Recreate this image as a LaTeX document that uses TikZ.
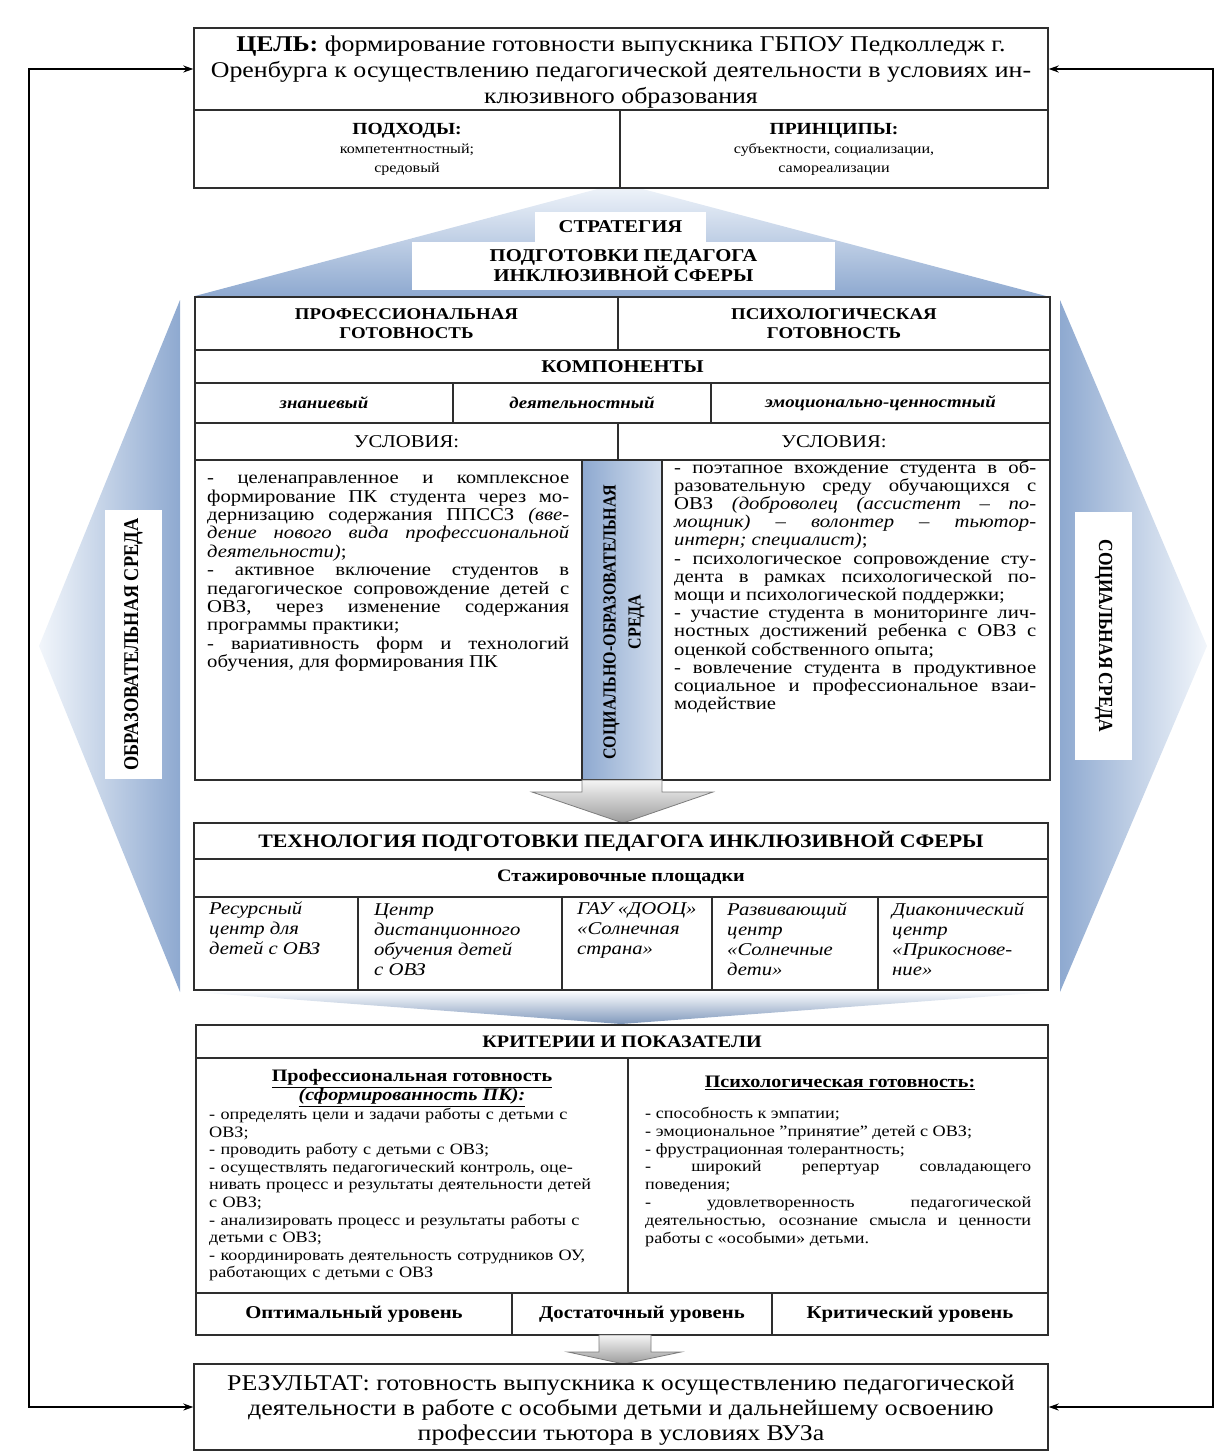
\documentclass[tikz,border=0pt]{standalone}
\usepackage{fontspec}
\setmainfont{Liberation Serif}[FakeStretch=1.15]
\newfontfamily\rotfont{Liberation Serif}[FakeStretch=0.87]
\usetikzlibrary{arrows.meta}
\definecolor{bord}{HTML}{2E2E2E}
\definecolor{blueD}{HTML}{8EA9D0}
\definecolor{blueL}{HTML}{F2F6FB}
\definecolor{greyD}{HTML}{9C9C9C}
\definecolor{greyL}{HTML}{F4F4F4}
\newcommand\fsz[2]{\fontsize{#1}{#2}\selectfont}
\newcommand\jst{\tolerance=10000 \hyphenpenalty=10000 \exhyphenpenalty=10000\relax}
\newcommand\mkcell[7][]{%
  \pgfmathsetmacro\cx{(#3+#5)/2}\pgfmathsetmacro\cy{(#4+#6)/2}%
  \pgfmathsetmacro\cw{#5-#3}\pgfmathsetmacro\ch{#6-#4}%
  \node[cell,minimum width=\cw pt,minimum height=\ch pt,#1] (#2) at (\cx,\cy) {#7};}
\begin{document}
\begin{tikzpicture}[x=1pt,y=-1pt,
  cell/.style={draw=bord,line width=1.4pt,fill=white,inner sep=0pt,align=center},
  txt/.style={inner sep=0pt},
  lab/.style={fill=white,inner sep=0pt,font=\rotfont\bfseries\fsz{21}{25}},
  garrow/.style={draw=greyD!80!black,line width=0.8pt,top color=greyL,bottom color=greyD},
  techtxt/.style={inner sep=0pt,anchor=north west,align=left,font=\itshape\fsz{18}{20}},
  fb/.style={line width=1.3pt,{Stealth[length=10pt,width=7pt]}-{Stealth[length=10pt,width=7pt]}}
]
\useasboundingbox (0,0) rectangle (1225,1452);

% background shapes
\path[left color=blueL,right color=blueD] (180,300) -- (180,992) -- (39,646) -- cycle;
\path[left color=blueD,right color=blueL] (1060,300) -- (1060,992) -- (1207,646) -- cycle;
\path[top color=blueL,bottom color=blueD] (620,183) -- (1046,296) -- (195,296) -- cycle;
\path[top color=blueL!50!white,bottom color=blueD!90!black] (194,992) -- (1048,992) -- (621,1024) -- cycle;

% side labels
\node[lab,rotate=90,minimum width=269pt,minimum height=57pt] (obr) at (133.5,644.5) {ОБРАЗОВАТЕЛЬНАЯ СРЕДА};
\node[lab,rotate=-90,minimum width=248pt,minimum height=57pt,font=\rotfont\bfseries\fsz{20}{25}] (soc) at (1103.5,636) {СОЦИАЛЬНАЯ СРЕДА};

% top
\mkcell{cel}{194}{28}{1048}{110}{}
\node[txt,align=center,font=\fsz{22.5}{26}] (celt) at (621,72) {\textbf{ЦЕЛЬ:} формирование готовности выпускника ГБПОУ Педколледж г.\\Оренбурга к осуществлению педагогической деятельности в условиях ин-\\клюзивного образования};
\mkcell[font=\fsz{14}{19}]{podh}{194}{110}{620}{188}{{\bfseries\fsz{17}{19}ПОДХОДЫ:}\\компетентностный;\\средовый}
\mkcell[font=\fsz{14}{19}]{princ}{620}{110}{1048}{188}{{\bfseries\fsz{17}{19}ПРИНЦИПЫ:}\\субъектности, социализации,\\самореализации}

% strategy
\node[fill=white,inner sep=0pt,minimum width=171pt,minimum height=30pt,font=\bfseries\fsz{18}{20}] (strat) at (620.5,227) {СТРАТЕГИЯ};
\node[fill=white,inner sep=0pt,minimum width=423pt,minimum height=48pt,align=center,font=\bfseries\fsz{18}{20}] (strat2) at (623.5,266) {ПОДГОТОВКИ ПЕДАГОГА\\ИНКЛЮЗИВНОЙ СФЕРЫ};

% readiness table
\mkcell[font=\bfseries\fsz{16.4}{19}]{prof}{195}{297}{618}{350}{ПРОФЕССИОНАЛЬНАЯ\\ГОТОВНОСТЬ}
\mkcell[font=\bfseries\fsz{16.4}{19}]{psy}{618}{297}{1050}{350}{ПСИХОЛОГИЧЕСКАЯ\\ГОТОВНОСТЬ}
\mkcell[font=\bfseries\fsz{18}{20}]{komp}{195}{350}{1050}{383}{КОМПОНЕНТЫ}
\mkcell[font=\bfseries\itshape\fsz{16.4}{18}]{zn}{195}{383}{453}{423}{знаниевый}
\mkcell[font=\bfseries\itshape\fsz{16.4}{18}]{dey}{453}{383}{711}{423}{деятельностный}
\mkcell[font=\bfseries\itshape\fsz{16.4}{18}]{emo}{711}{383}{1050}{423}{эмоционально-ценностный}
\mkcell[font=\fsz{18}{20}]{uslL}{195}{423}{618}{460}{УСЛОВИЯ:}
\mkcell[font=\fsz{18}{20}]{uslR}{618}{423}{1050}{460}{УСЛОВИЯ:}
\mkcell{condL}{195}{460}{582}{780}{}
\mkcell{condR}{662}{460}{1050}{780}{}
\mkcell[left color=blueD,right color=blueL!70!blueD]{col}{582}{460}{662}{780}{}
\node[rotate=90,inner sep=0pt,align=center,font=\rotfont\bfseries\fsz{18.4}{25}] (coltxt) at (624,622) {СОЦИАЛЬНО-ОБРАЗОВАТЕЛЬНАЯ\\СРЕДА};

\node[txt,anchor=north west,text width=362pt,align=justify,font=\fsz{18}{18.4}\jst] (condLt) at (207,475)
{- целенаправленное и комплексное\linebreak
формирование ПК студента через мо-\linebreak
дернизацию содержания ППССЗ \textit{(вве-}\linebreak
\textit{дение нового вида профессиональной}\linebreak
\textit{деятельности)};\newline
- активное включение студентов в\linebreak
педагогическое сопровождение детей с\linebreak
ОВЗ, через изменение содержания\linebreak
программы практики;\newline
- вариативность форм и технологий\linebreak
обучения, для формирования ПК};

\node[txt,anchor=north west,text width=362pt,align=justify,font=\fsz{18}{18.2}\jst] (condRt) at (674,460)
{- поэтапное вхождение студента в об-\linebreak
разовательную среду обучающихся с\linebreak
ОВЗ \textit{(доброволец (ассистент – по-}\linebreak
\textit{мощник) – волонтер – тьютор-}\linebreak
\textit{интерн; специалист)};\newline
- психологическое сопровождение сту-\linebreak
дента в рамках психологической по-\linebreak
мощи и психологической поддержки;\newline
- участие студента в мониторинге лич-\linebreak
ностных достижений ребенка с ОВЗ с\linebreak
оценкой собственного опыта;\newline
- вовлечение студента в продуктивное\linebreak
социальное и профессиональное взаи-\linebreak
модействие};

% arrow 1
\path[garrow] (582,780) -- (662,780) -- (662,792) -- (713,792) -- (623,823) -- (532,792) -- (582,792) -- cycle;

% technology
\mkcell[font=\bfseries\fsz{19}{20}]{tech}{194}{823}{1048}{859}{ТЕХНОЛОГИЯ ПОДГОТОВКИ ПЕДАГОГА ИНКЛЮЗИВНОЙ СФЕРЫ}
\mkcell[font=\bfseries\fsz{17.5}{20}]{stazh}{194}{859}{1048}{897}{Стажировочные площадки}
\mkcell{b1}{194}{897}{358}{990}{}
\mkcell{b2}{358}{897}{562}{990}{}
\mkcell{b3}{562}{897}{712}{990}{}
\mkcell{b4}{712}{897}{878}{990}{}
\mkcell{b5}{878}{897}{1048}{990}{}
\node[techtxt] (t1) at (209,901) {Ресурсный\\центр для\\детей с ОВЗ};
\node[techtxt] (t2) at (374,903) {Центр\\дистанционного\\обучения детей\\с ОВЗ};
\node[techtxt] (t3) at (577,902) {ГАУ «ДООЦ»\\«Солнечная\\страна»};
\node[techtxt] (t4) at (727,902) {Развивающий\\центр\\«Солнечные\\дети»};
\node[techtxt] (t5) at (892,902) {Диаконический\\центр\\«Прикоснове-\\ние»};

% criteria
\mkcell[font=\bfseries\fsz{17.5}{20}]{crit}{196}{1025}{1048}{1058}{КРИТЕРИИ И ПОКАЗАТЕЛИ}
\mkcell{critL}{196}{1058}{628}{1293}{}
\mkcell{critR}{628}{1058}{1048}{1293}{}
\mkcell[font=\bfseries\fsz{18}{20}]{lv1}{196}{1293}{512}{1335}{Оптимальный уровень}
\mkcell[font=\bfseries\fsz{18}{20}]{lv2}{512}{1293}{772}{1335}{Достаточный уровень}
\mkcell[font=\bfseries\fsz{18}{20}]{lv3}{772}{1293}{1048}{1335}{Критический уровень}

\node[txt,align=center,font=\bfseries\fsz{17.5}{19}] (critLh) at (412,1088)
{\underline{Профессиональная готовность}\\\underline{\itshape(сформированность ПК):}};
\node[txt,anchor=north west,text width=412pt,align=left,font=\fsz{15.8}{17.6}] (critLt) at (209,1108)
{- определять цели и задачи работы с детьми с\\
ОВЗ;\\
- проводить работу с детьми с ОВЗ;\\
- осуществлять педагогический контроль, оце-\\
нивать процесс и результаты деятельности детей\\
с ОВЗ;\\
- анализировать процесс и результаты работы с\\
детьми с ОВЗ;\\
- координировать деятельность сотрудников ОУ,\\
работающих с детьми с ОВЗ};

\node[txt,font=\bfseries\fsz{17.5}{19}] (critRh) at (840,1083) {\underline{Психологическая готовность:}};
\node[txt,anchor=north west,text width=386pt,align=justify,font=\fsz{15.8}{17.8}\jst] (critRt) at (645,1107)
{- способность к эмпатии;\newline
- эмоциональное "принятие" детей с ОВЗ;\newline
- фрустрационная толерантность;\newline
- широкий репертуар совладающего\linebreak
поведения;\newline
- удовлетворенность педагогической\linebreak
деятельностью, осознание смысла и ценности\linebreak
работы с «особыми» детьми.};

% arrow 2
\path[garrow] (599,1335) -- (651,1335) -- (651,1352) -- (681,1352) -- (624,1364) -- (568,1352) -- (599,1352) -- cycle;

% result
\mkcell{res}{194}{1364}{1048}{1450}{}
\node[txt,align=center,font=\fsz{22.5}{25}] (rest) at (621,1410) {РЕЗУЛЬТАТ: готовность выпускника к осуществлению педагогической\\деятельности в работе с особыми детьми и дальнейшему освоению\\профессии тьютора в условиях ВУЗа};

% feedback lines
\coordinate (fbL) at (29,0);
\coordinate (fbR) at (1213,0);
\draw[fb] (cel.west) -- (cel.west -| fbL) -- (res.west -| fbL) -- (res.west);
\draw[fb] (cel.east) -- (cel.east -| fbR) -- (res.east -| fbR) -- (res.east);
\end{tikzpicture}
\end{document}
